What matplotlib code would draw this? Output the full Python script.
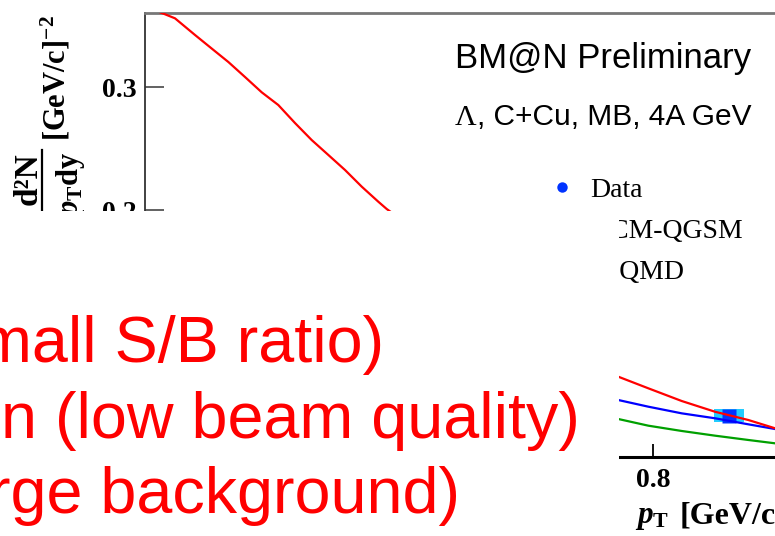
import matplotlib
matplotlib.use("Agg")
import matplotlib.pyplot as plt
from matplotlib.lines import Line2D
from matplotlib.patches import Rectangle
from matplotlib.ticker import FixedLocator, FixedFormatter

plt.rcParams['mathtext.fontset'] = 'custom'
plt.rcParams['mathtext.rm'] = 'Liberation Serif:bold'
plt.rcParams['mathtext.bf'] = 'Liberation Serif:bold'
plt.rcParams['mathtext.it'] = 'Liberation Serif:bold:italic'

# ---------------- data ----------------
red_x = [0.0236, 0.0472, 0.0787, 0.1050, 0.1312, 0.1575, 0.1838, 0.2099, 0.2362,
         0.2625, 0.2887, 0.3150, 0.3413, 0.3674, 0.3806,
         0.7454, 0.7926, 0.8452, 0.8976, 0.9501, 0.9921]
red_y = [0.3606, 0.3557, 0.3422, 0.3312, 0.3203, 0.3081, 0.2957, 0.2854, 0.2708,
         0.2570, 0.2449, 0.2327, 0.2192, 0.2070, 0.2011,
         0.0651, 0.0557, 0.0454, 0.0367, 0.0300, 0.0233]
blue_x = [0.7454, 0.7926, 0.8452, 0.8976, 0.9501, 0.9921]
blue_y = [0.0462, 0.0408, 0.0354, 0.0314, 0.0265, 0.0227]
green_x = [0.7454, 0.7926, 0.8452, 0.8976, 0.9501, 0.9921]
green_y = [0.0308, 0.0254, 0.0211, 0.0173, 0.0138, 0.0111]

data_x = [0.920]
data_y = [0.0336]
data_sys_dx = [0.0236]
data_sys_dy = [0.0053]

y_ticks = [0.1, 0.2, 0.3]
y_tick_labels = ["0.1", "0.2", "0.3"]
x_ticks = [0.2, 0.4, 0.6, 0.8, 1.0]
x_tick_labels = ["0.2", "0.4", "0.6", "0.8", "1"]

legend_labels = ["Data", "DCM-QGSM", "UrQMD"]
slide_lines = ["mall S/B ratio)", "n (low beam quality)", "rge background)"]

# ---------------- figure ----------------
W, H = 775, 536
fig = plt.figure(figsize=(W / 100, H / 100), dpi=100)
fig.patch.set_facecolor('white')

def fx(x):
    return x / W

def fy(y):
    return 1 - y / H

ax_left, ax_top, ax_bottom = 145, 13, 457
ax_w = 762
ax = fig.add_axes([fx(ax_left), fy(ax_bottom), ax_w / W, (ax_bottom - ax_top) / H])
ax.set_xlim(0, 1.2)
ax.set_ylim(0, 0.36)

# systematic box + data marker
ax.bar(data_x, [2 * d for d in data_sys_dy],
       bottom=[y - d for y, d in zip(data_y, data_sys_dy)],
       width=[2 * d for d in data_sys_dx], color='#22ccff', zorder=2)
ax.plot(data_x, data_y, 's', color='#0033ff', ms=9.5, mec='none', zorder=3)

ax.plot(green_x, green_y, color='#00a000', lw=1.6, zorder=4, solid_joinstyle='round')
ax.plot(blue_x, blue_y, color='#0000ff', lw=1.6, zorder=4, solid_joinstyle='round')
ax.plot(red_x, red_y, color='#ff0000', lw=1.6, zorder=5, solid_joinstyle='round')

# spines
ax.spines['right'].set_visible(False)
ax.spines['top'].set_color('#777777')
ax.spines['top'].set_linewidth(2.0)
ax.spines['left'].set_color('#333333')
ax.spines['left'].set_linewidth(1.3)
ax.spines['bottom'].set_color('black')
ax.spines['bottom'].set_linewidth(2.2)

ax.yaxis.set_major_locator(FixedLocator(y_ticks))
ax.yaxis.set_major_formatter(FixedFormatter(y_tick_labels))
ax.xaxis.set_major_locator(FixedLocator(x_ticks))
ax.xaxis.set_major_formatter(FixedFormatter(x_tick_labels))
ax.minorticks_off()
ax.tick_params(axis='y', direction='in', length=13.7, width=1.3, color='#555555',
               pad=5.8, labelsize=20)
ax.tick_params(axis='x', direction='in', length=9.4, width=1.3, color='black',
               pad=8, labelsize=20)
for lab in ax.get_xticklabels() + ax.get_yticklabels():
    lab.set_fontfamily('Liberation Serif')
    lab.set_fontweight('bold')

# y-axis label pieces
fig.text(fx(66), fy(15), r"$\mathrm{[GeV/c]^{-2}}$", rotation=90, rotation_mode='anchor',
         ha='right', va='baseline', fontsize=22, zorder=3)
fig.text(fx(37), fy(152), "d\u00b2N", rotation=90, rotation_mode='anchor',
         ha='right', va='baseline', fontsize=24, family='Liberation Serif',
         weight='bold', zorder=3)
fig.text(fx(78), fy(152), r"$p_{\mathrm{T}}\mathrm{dy}$", rotation=90, rotation_mode='anchor',
         ha='right', va='baseline', fontsize=22, zorder=3)
fig.add_artist(Line2D([fx(42), fx(42)], [fy(150), fy(300)], color='black', lw=1.6,
                      transform=fig.transFigure, zorder=3))

# x-axis label
fig.text(fx(635), fy(523), r"$p_{\mathrm{T}}$", ha='left', va='baseline', fontsize=22.5, zorder=3)
fig.text(fx(680), fy(523), "[GeV/c]", ha='left', va='baseline', fontsize=23,
         family='Liberation Serif', weight='bold', zorder=3)

# header texts
fig.text(fx(455), fy(68), "BM@N Preliminary", ha='left', va='baseline', fontsize=25,
         family='Liberation Sans', color='black', zorder=3)
fig.text(fx(455), fy(125), "\u039b", ha='left', va='baseline', fontsize=21.5,
         family='Liberation Serif', color='black', zorder=3)
fig.text(fx(477), fy(125), ", C+Cu, MB, 4A GeV", ha='left', va='baseline', fontsize=21.5,
         family='Liberation Sans', color='black', zorder=3)

# legend
fig.add_artist(Line2D([fx(562)], [fy(187)], marker='o', ms=7.5, color='#0033ff',
                      mec='none', transform=fig.transFigure, zorder=3))
for lab, yb in zip(legend_labels, [197, 238, 279]):
    fig.text(fx(590), fy(yb), lab, ha='left', va='baseline', fontsize=20,
             family='Liberation Serif', color='black', zorder=3)

# white slide box covering the plot
fig.add_artist(Rectangle((0, 0), fx(619), fy(211), transform=fig.transFigure,
                         facecolor='white', edgecolor='none', zorder=10))

# red slide text
for txt, xr, yb in zip(slide_lines, [384, 580, 460], [362, 438, 513]):
    fig.text(fx(xr), fy(yb), txt, ha='right', va='baseline', fontsize=46.5,
             family='Liberation Sans', color='#ff0000', zorder=20)

fig.savefig("out.png", dpi=100)
